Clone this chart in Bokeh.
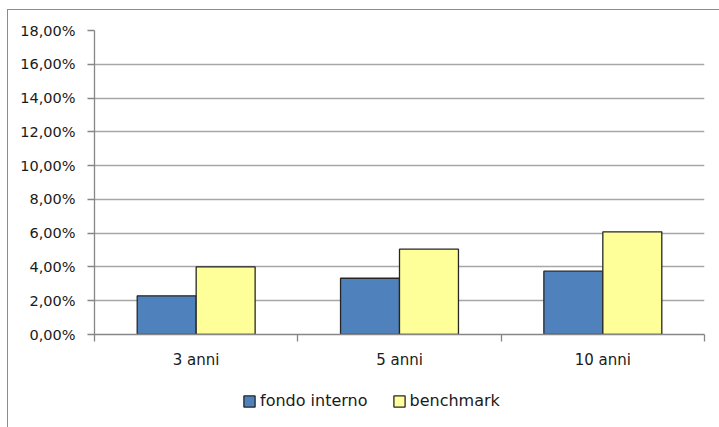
from bokeh.plotting import figure
from bokeh.layouts import column
from bokeh.models import Range1d, FixedTicker, Legend, LegendItem, ColumnDataSource
from bokeh.transform import dodge
from bokeh.embed import file_html
from bokeh.resources import INLINE

categories = ["3 anni", "5 anni", "10 anni"]
series_names = ["fondo interno", "benchmark"]
fondo_interno = [2.29, 3.33, 3.75]
benchmark = [4.00, 5.05, 6.08]
y_ticks = [0, 2, 4, 6, 8, 10, 12, 14, 16, 18]
y_tick_labels = ["0,00%", "2,00%", "4,00%", "6,00%", "8,00%", "10,00%",
                 "12,00%", "14,00%", "16,00%", "18,00%"]

FONT = "DejaVu Sans"
TEXT = "#1a1a1a"
BLUE = "#4F81BD"
YELLOW = "#FFFF99"
EDGE = "#262626"
AXIS = "#868686"

centers = [i + 0.5 for i in range(len(categories))]
bounds = [float(i) for i in range(len(categories) + 1)]

src = ColumnDataSource(dict(x=centers, fondo=fondo_interno, bench=benchmark))

# ---- main chart ----
p = figure(width=711, height=365, output_backend="svg", toolbar_location=None,
           x_range=Range1d(0, len(categories)), y_range=Range1d(0, max(y_ticks)),
           min_border_left=86, min_border_right=15, min_border_top=20,
           min_border_bottom=41)
p.outline_line_color = None
p.background_fill_color = "white"
p.border_fill_color = "white"

p.xgrid.visible = False
p.ygrid.grid_line_color = "#a6a6a6"
p.ygrid.grid_line_width = 1.5

bw = 0.29
p.vbar(x=dodge("x", -bw / 2, range=p.x_range), top="fondo", width=bw, source=src,
       fill_color=BLUE, line_color=EDGE, line_width=1.3)
p.vbar(x=dodge("x", bw / 2, range=p.x_range), top="bench", width=bw, source=src,
       fill_color=YELLOW, line_color=EDGE, line_width=1.3)

ya = p.yaxis[0]
ya.ticker = FixedTicker(ticks=y_ticks)
ya.major_label_overrides = {t: l for t, l in zip(y_ticks, y_tick_labels)}
ya.major_tick_in = 0
ya.major_tick_out = 7
ya.minor_tick_out = 0
ya.minor_tick_in = 0
ya.axis_line_color = AXIS
ya.major_tick_line_color = AXIS
ya.axis_line_width = 1.3
ya.major_tick_line_width = 1.3
ya.major_label_text_font = FONT
ya.major_label_text_font_size = "14.5px"
ya.major_label_text_color = TEXT
ya.major_label_standoff = 12

xa = p.xaxis[0]
xa.ticker = FixedTicker(ticks=centers, minor_ticks=bounds)
xa.major_label_overrides = {c: l for c, l in zip(centers, categories)}
xa.major_tick_in = 0
xa.major_tick_out = 0
xa.minor_tick_in = 0
xa.minor_tick_out = 7
xa.axis_line_color = AXIS
xa.minor_tick_line_color = AXIS
xa.axis_line_width = 1.3
xa.minor_tick_line_width = 1.3
xa.major_label_text_font = FONT
xa.major_label_text_font_size = "15px"
xa.major_label_text_color = TEXT
xa.major_label_standoff = 9

# ---- legend strip ----
p2 = figure(width=711, height=52, output_backend="svg", toolbar_location=None,
            x_range=Range1d(0, 711), y_range=Range1d(0, 52),
            x_axis_type=None, y_axis_type=None,
            min_border_left=0, min_border_right=0, min_border_top=0,
            min_border_bottom=0)
p2.outline_line_color = None
p2.background_fill_color = "white"
p2.border_fill_color = "white"

l1 = p2.vbar(x="x", top="fondo", width=bw, source=src,
             fill_color=BLUE, line_color=EDGE, line_width=1.3, visible=False)
l2 = p2.vbar(x="x", top="bench", width=bw, source=src,
             fill_color=YELLOW, line_color=EDGE, line_width=1.3, visible=False)

legend = Legend(items=[LegendItem(label=series_names[0], renderers=[l1]),
                       LegendItem(label=series_names[1], renderers=[l2])],
                orientation="horizontal", location=(148, 17),
                glyph_width=14, glyph_height=14, label_standoff=4, spacing=24,
                padding=0, margin=0, border_line_color=None,
                background_fill_alpha=0, inactive_fill_alpha=0,
                label_text_font=FONT, label_text_font_size="16px",
                label_text_color=TEXT)
p2.add_layout(legend)

layout = column(p, p2, spacing=0, margin=(9, 0, 0, 7),
                styles={"border-left": "1px solid #8c8c8c",
                        "border-top": "1px solid #8c8c8c"})

open("out.html", "w").write(file_html(layout, INLINE))
